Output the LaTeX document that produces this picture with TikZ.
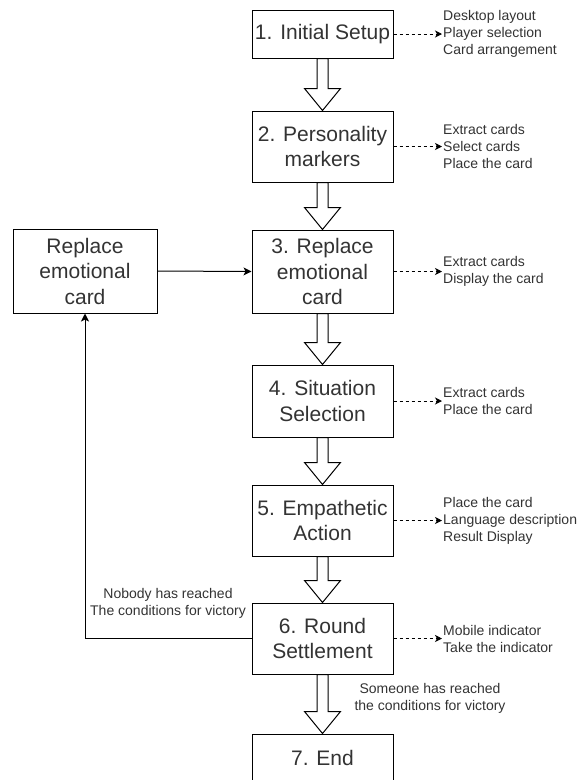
\documentclass[tikz,border=0pt]{standalone}
\usepackage{fontspec}
\setmainfont{Liberation Sans}
\usetikzlibrary{arrows.meta,calc}

\newlength{\du}
\setlength{\du}{1pt}
\definecolor{dialinecolor}{rgb}{0.200000, 0.200000, 0.200000}

\tikzset{
  stepbox/.style={draw=black, line width=1\du, fill=white, text=dialinecolor,
    minimum width=141\du, inner sep=2\du, align=center,
    font=\fontsize{21}{25.5}\selectfont},
  notelabel/.style={text=dialinecolor, inner sep=1\du, anchor=west, align=left,
    font=\fontsize{14}{17}\selectfont},
  edgelabel/.style={text=dialinecolor, inner sep=0\du, align=center,
    font=\fontsize{14}{17}\selectfont},
  dotarrow/.style={draw=black, line width=1pt, dash pattern=on 3pt off 3pt,
    -{Stealth[length=7pt,width=7pt,inset=2pt]}},
  flowline/.style={draw=black, line width=1pt,
    -{Stealth[length=8pt,width=8pt,inset=2pt]}},
  bigarrow/.style={draw=black, line width=1pt, fill=white, line join=miter},
}

% hollow block arrow from one step to the next
\newcommand{\stepdown}[2]{%
\draw[bigarrow] ($(#1.south)+(-5.5,0)$)--($(#2.north)+(-5.5,-22)$)--++(-12.5,0)--(#2.north)--++(18,-22)--++(-12.5,0)--($(#1.south)+(5.5,0)$)--cycle;
}

\begin{document}
\begin{tikzpicture}[x=1\du, y=-1\du]
\useasboundingbox (0,0) rectangle (579,780);

% steps
\node[stepbox, minimum height=48\du] (initsetup) at (322.5,34) {1. Initial Setup};
\node[stepbox, minimum height=71\du] (personality) at (322.5,146.5) {2. Personality\\markers};
\node[stepbox, minimum height=83\du] (replace) at (322.5,271.5) {3. Replace\\emotional\\card};
\node[stepbox, minimum height=72\du] (situation) at (322.5,401) {4. Situation\\Selection};
\node[stepbox, minimum height=71\du] (empathetic) at (322.5,520.5) {5. Empathetic\\Action};
\node[stepbox, minimum height=71\du] (settlement) at (322.5,638.5) {6. Round\\Settlement};
\node[stepbox, minimum height=48\du] (finish) at (322.5,758) {7. End};
\node[stepbox, minimum width=144\du, minimum height=84\du] (newcard) at (85,271) {Replace\\emotional\\card};

% block arrows
\stepdown{initsetup}{personality}
\stepdown{personality}{replace}
\stepdown{replace}{situation}
\stepdown{situation}{empathetic}
\stepdown{empathetic}{settlement}
\stepdown{settlement}{finish}

% notes on the right
\node[notelabel] (noteinit) at (442,34) {Desktop layout\\Player selection\\Card arrangement};
\node[notelabel] (notepers) at (442,146.5) {Extract cards\\Select cards\\Place the card};
\node[notelabel] (noterepl) at (442,271.5) {Extract cards\\Display the card};
\node[notelabel] (notesitu) at (442,401) {Extract cards\\Place the card};
\node[notelabel] (noteempa) at (442,520.5) {Place the card\\Language description\\Result Display};
\node[notelabel] (notesett) at (442,638.5) {Mobile indicator\\Take the indicator};

\draw[dotarrow] (initsetup.east)--(noteinit.west);
\draw[dotarrow] (personality.east)--(notepers.west);
\draw[dotarrow] (replace.east)--(noterepl.west);
\draw[dotarrow] (situation.east)--(notesitu.west);
\draw[dotarrow] (empathetic.east)--(noteempa.west);
\draw[dotarrow] (settlement.east)--(notesett.west);

% loop back
\draw[flowline] (settlement.west) -| (newcard.south);
\draw[flowline] (newcard.east)--(replace.west);

\node[edgelabel] (nobody) at (168,603.5) {Nobody has reached\\The conditions for victory};
\node[edgelabel] (someone) at (430,698) {Someone has reached\\the conditions for victory};
\end{tikzpicture}
\end{document}
